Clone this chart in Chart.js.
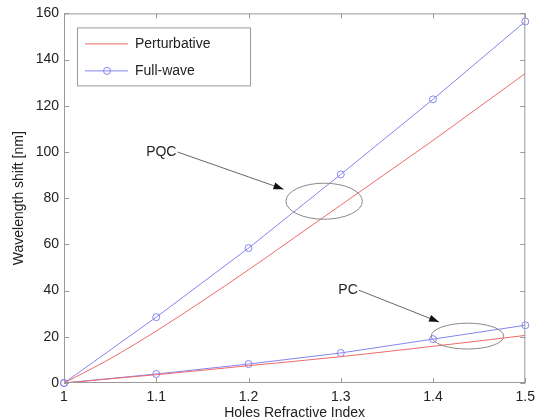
<!DOCTYPE html>
<html>
<head>
<meta charset="utf-8">
<script src="https://cdn.jsdelivr.net/npm/chart.js@4"></script>
<style>
  html, body { margin: 0; padding: 0; background: #fff; }
  #wrap { width: 541px; height: 420px; }
</style>
</head>
<body>
<div id="wrap"><canvas id="shiftChart" width="541" height="420"></canvas></div>
<script>
// --- datos ---
const xFull = [1, 1.1, 1.2, 1.3, 1.4, 1.5];
const xPert = [1, 1.05, 1.1, 1.15, 1.2, 1.25, 1.3, 1.35, 1.4, 1.45, 1.5];

const pqcFull = [0, 28.5, 58.4, 90.3, 122.8, 156.5];
const pqcPert = [0, 10.5, 22.5, 35.5, 49, 63, 77, 91, 105, 119.5, 134];

const pcFull = [0, 3.9, 8.2, 13, 19, 25];
const pcPert = [0, 1.8, 3.6, 5.5, 7.5, 9.4, 11.4, 13.6, 15.9, 18.2, 20.6];

const xTicks = [1, 1.1, 1.2, 1.3, 1.4, 1.5];
const yTicks = [0, 20, 40, 60, 80, 100, 120, 140, 160];

const RED = '#ee6a6a';
const BLUE = '#8585f0';
const AXIS = '#9a9a9a';
const TEXT = '#222';
const FONT = '"Liberation Sans", Arial, sans-serif';

const toPts = (xs, ys) => xs.map((x, i) => ({ x, y: ys[i] }));

// anotaciones en coordenadas de datos
const notes = [
  { label: 'PQC', from: [1.123, 100], to: [1.238, 83.9], ell: [1.282, 78.7, 0.0414, 7.8] },
  { label: 'PC',  from: [1.3195, 40.2], to: [1.4066, 26.4], ell: [1.4374, 20.3, 0.0393, 5.6] },
];

const matlabPlugin = {
  id: 'matlab',
  afterDatasetsDraw(chart) {
    const { ctx, chartArea: a, scales: { x, y } } = chart;
    ctx.save();

    // caja y ticks hacia adentro
    ctx.strokeStyle = AXIS;
    ctx.lineWidth = 1;
    ctx.strokeRect(a.left + 0.5, a.top + 0.5, a.right - a.left - 1, a.bottom - a.top - 1);
    ctx.beginPath();
    xTicks.forEach(v => {
      const px = Math.round(x.getPixelForValue(v)) + 0.5;
      ctx.moveTo(px, a.bottom); ctx.lineTo(px, a.bottom - 5);
      ctx.moveTo(px, a.top); ctx.lineTo(px, a.top + 5);
    });
    yTicks.forEach(v => {
      const py = Math.round(y.getPixelForValue(v)) + 0.5;
      ctx.moveTo(a.left, py); ctx.lineTo(a.left + 5, py);
      ctx.moveTo(a.right, py); ctx.lineTo(a.right - 5, py);
    });
    ctx.stroke();

    // flechas, elipses y textos
    ctx.font = '14px ' + FONT;
    ctx.textBaseline = 'middle';
    notes.forEach(n => {
      const x0 = x.getPixelForValue(n.from[0]), y0 = y.getPixelForValue(n.from[1]);
      const x1 = x.getPixelForValue(n.to[0]),   y1 = y.getPixelForValue(n.to[1]);
      ctx.strokeStyle = '#666';
      ctx.beginPath(); ctx.moveTo(x0, y0); ctx.lineTo(x1, y1); ctx.stroke();
      const ang = Math.atan2(y1 - y0, x1 - x0);
      ctx.fillStyle = '#111';
      ctx.beginPath();
      ctx.moveTo(x1, y1);
      ctx.lineTo(x1 - 10 * Math.cos(ang) + 3.5 * Math.sin(ang), y1 - 10 * Math.sin(ang) - 3.5 * Math.cos(ang));
      ctx.lineTo(x1 - 10 * Math.cos(ang) - 3.5 * Math.sin(ang), y1 - 10 * Math.sin(ang) + 3.5 * Math.cos(ang));
      ctx.closePath(); ctx.fill();

      const [cx, cy, rx, ry] = n.ell;
      const pcx = x.getPixelForValue(cx), pcy = y.getPixelForValue(cy);
      const prx = x.getPixelForValue(cx + rx) - pcx;
      const pry = pcy - y.getPixelForValue(cy + ry);
      ctx.strokeStyle = '#888';
      ctx.beginPath(); ctx.ellipse(pcx, pcy, prx, pry, 0, 0, Math.PI * 2); ctx.stroke();

      ctx.fillStyle = TEXT;
      ctx.textAlign = 'right';
      ctx.fillText(n.label, x0 - 1, y0);
    });

    // leyenda
    const lx = a.left + 13, ly = a.top + 14, lw = 173, lh = 58;
    ctx.fillStyle = '#fff';
    ctx.fillRect(lx, ly, lw, lh);
    ctx.strokeStyle = AXIS;
    ctx.strokeRect(lx + 0.5, ly + 0.5, lw, lh);
    const items = [
      { text: chart.data.datasets[0].label, color: RED, marker: false, yy: ly + 16 },
      { text: chart.data.datasets[1].label, color: BLUE, marker: true, yy: ly + 43 },
    ];
    ctx.textAlign = 'left';
    items.forEach(it => {
      ctx.strokeStyle = it.color;
      ctx.beginPath(); ctx.moveTo(lx + 8, it.yy + 0.5); ctx.lineTo(lx + 51, it.yy + 0.5); ctx.stroke();
      if (it.marker) {
        ctx.beginPath(); ctx.arc(lx + 30, it.yy + 0.5, 3.5, 0, Math.PI * 2); ctx.stroke();
      }
      ctx.fillStyle = TEXT;
      ctx.fillText(it.text, lx + 58, it.yy + 1);
    });
    ctx.restore();
  }
};

const lineBase = { borderWidth: 1, clip: false, fill: false };

new Chart(document.getElementById('shiftChart'), {
  type: 'line',
  data: {
    datasets: [
      { ...lineBase, label: 'Perturbative', data: toPts(xPert, pqcPert), borderColor: RED,
        pointRadius: 0, cubicInterpolationMode: 'monotone' },
      { ...lineBase, label: 'Full-wave', data: toPts(xFull, pqcFull), borderColor: BLUE,
        pointRadius: 3.5, pointBorderColor: BLUE, pointBackgroundColor: 'rgba(0,0,0,0)', pointBorderWidth: 1, tension: 0 },
      { ...lineBase, label: 'Perturbative PC', data: toPts(xPert, pcPert), borderColor: RED,
        pointRadius: 0, cubicInterpolationMode: 'monotone' },
      { ...lineBase, label: 'Full-wave PC', data: toPts(xFull, pcFull), borderColor: BLUE,
        pointRadius: 3.5, pointBorderColor: BLUE, pointBackgroundColor: 'rgba(0,0,0,0)', pointBorderWidth: 1, tension: 0 },
    ]
  },
  options: {
    responsive: false,
    animation: false,
    layout: { padding: { top: 13, right: 6, left: 0, bottom: 0 } },
    plugins: { legend: { display: false }, tooltip: { enabled: false } },
    scales: {
      x: {
        type: 'linear', min: 1, max: 1.5,
        afterBuildTicks: s => { s.ticks = xTicks.map(v => ({ value: v })); },
        afterFit: s => { s.height = 37; },
        grid: { display: false, drawTicks: false },
        border: { display: false },
        ticks: { padding: 6, color: TEXT, font: { family: FONT, size: 14 }, maxRotation: 0,
                 callback: v => String(+v.toFixed(1)) },
        title: { display: true, text: 'Holes Refractive Index', color: TEXT,
                 font: { family: FONT, size: 14, lineHeight: 1 }, padding: { top: 0, bottom: 0 } }
      },
      y: {
        min: 0, max: 160,
        afterBuildTicks: s => { s.ticks = yTicks.map(v => ({ value: v })); },
        afterFit: s => { s.width = 64; },
        grid: { display: false, drawTicks: false },
        border: { display: false },
        ticks: { padding: 5, color: TEXT, font: { family: FONT, size: 14 } },
        title: { display: true, text: 'Wavelength shift [nm]', color: TEXT,
                 font: { family: FONT, size: 14, lineHeight: 1 }, padding: { top: 12, bottom: 0 } }
      }
    }
  },
  plugins: [matlabPlugin]
});
</script>
</body>
</html>
